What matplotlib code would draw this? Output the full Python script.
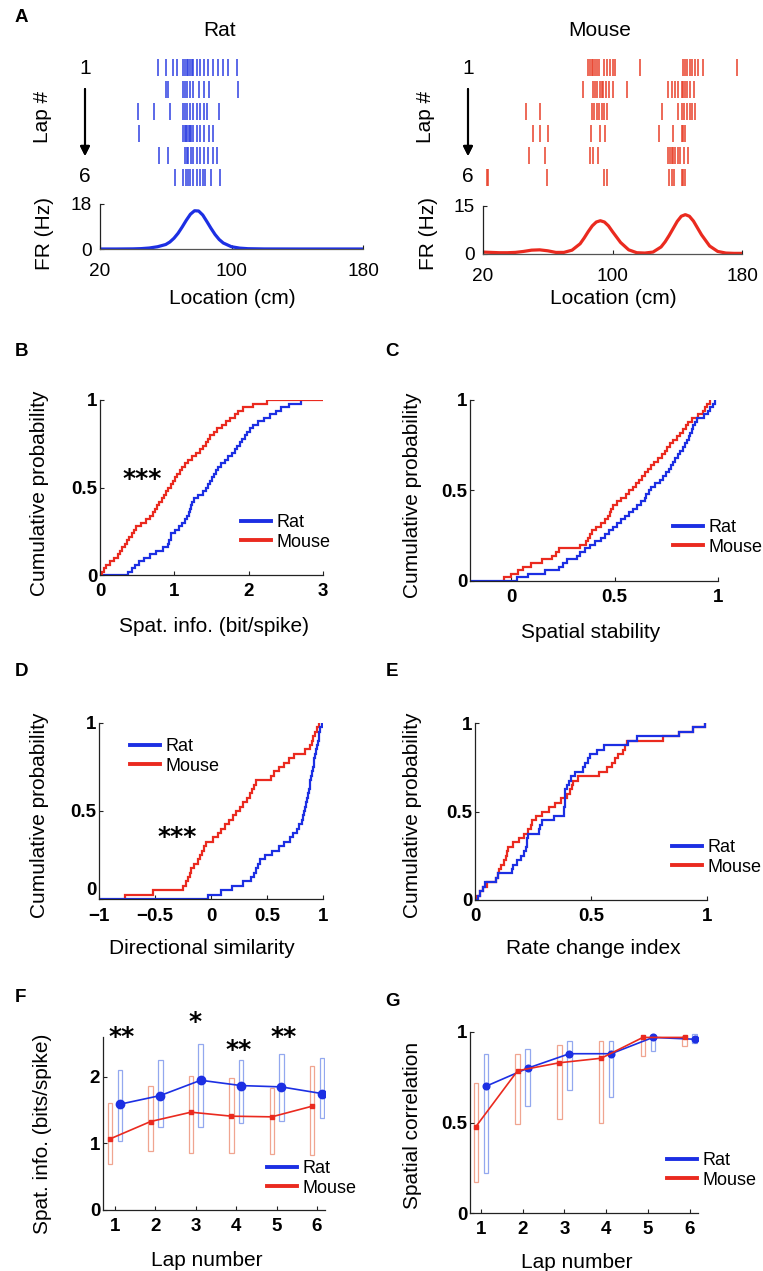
import numpy as np
import matplotlib
matplotlib.use('Agg')
import matplotlib.pyplot as plt
from matplotlib.patches import Rectangle
from matplotlib.lines import Line2D

plt.rcParams['font.family'] = ['Liberation Sans', 'DejaVu Sans']

# ---------------- data ----------------
laps = [1, 2, 3, 4, 5, 6]

rat_spikes = [
    [55.5, 60.0, 64.6, 66.6, 70.3, 71.7, 72.7, 73.7, 74.8, 75.8, 76.8, 78.8, 80.8, 83.3, 85.9, 88.9, 92.0, 94.6, 98.1, 103.5],
    [60.0, 61.6, 70.3, 71.7, 73.1, 74.8, 76.8, 80.4, 83.3, 86.5, 104.1],
    [43.3, 52.8, 62.6, 70.3, 71.7, 73.1, 74.8, 76.4, 78.8, 80.8, 83.3, 85.3, 92.4],
    [43.9, 70.7, 71.5, 72.3, 73.1, 73.9, 74.8, 75.6, 76.4, 78.8, 80.8, 83.3, 86.5, 88.5],
    [56.1, 61.6, 71.7, 72.7, 73.7, 75.2, 76.4, 78.8, 80.8, 83.3, 85.9, 88.5, 90.9],
    [65.6, 70.7, 72.3, 73.7, 74.8, 76.4, 78.8, 80.8, 82.8, 83.8, 87.3, 92.9],
]
mouse_spikes = [
    [85.0, 86.0, 87.1, 88.1, 89.1, 90.2, 91.8, 94.7, 96.4, 98.4, 100.5, 101.5, 117.0, 143.4, 144.9, 146.3, 147.6, 149.0, 151.0, 153.1, 155.8, 177.2],
    [81.9, 87.7, 89.1, 90.6, 92.2, 93.3, 94.3, 95.9, 98.0, 100.5, 108.8, 134.5, 136.6, 138.7, 140.7, 142.8, 143.8, 144.9, 145.9, 147.6, 150.4],
    [46.8, 55.1, 87.1, 88.5, 90.2, 91.8, 93.3, 94.7, 96.8, 130.4, 140.7, 142.8, 144.2, 145.9, 147.6, 149.0, 151.0],
    [51.0, 55.5, 59.9, 86.5, 92.2, 95.3, 129.0, 137.6, 142.8, 143.8, 144.9],
    [48.5, 58.6, 86.0, 88.1, 91.2, 134.5, 135.6, 136.6, 137.6, 138.7, 140.7, 141.7, 144.2, 146.9],
    [22.5, 23.1, 59.6, 94.7, 96.4, 135.2, 136.6, 138.0, 142.8, 143.8, 144.9],
]

rat_fr_loc = [20, 30, 40, 45, 50, 55, 60, 62.5, 65, 67.5, 70, 72.5, 75, 77.5, 80, 82.5, 85, 87.5, 90, 92.5, 95, 100, 105, 110, 120, 140, 160, 180]
rat_fr = [0, 0, 0.05, 0.15, 0.4, 0.9, 1.8, 2.8, 4.3, 6.3, 8.8, 11.5, 13.9, 15.3, 15.2, 13.6, 11.0, 8.3, 5.8, 3.8, 2.4, 0.9, 0.35, 0.12, 0.02, 0, 0, 0]

mouse_fr_loc = [20, 25, 30, 35, 40, 45, 50, 55, 60, 65, 70, 75, 80, 82.5, 85, 87.5, 90, 92.5, 95, 97.5, 100, 105, 110, 115, 120, 125, 130, 132.5, 135, 137.5, 140, 142.5, 145, 147.5, 150, 155, 160, 165, 170, 175, 180]
mouse_fr = [0.6, 0.5, 0.4, 0.4, 0.5, 0.8, 1.2, 1.3, 1.0, 0.5, 0.5, 1.2, 3.2, 5.0, 7.0, 8.8, 10.0, 10.4, 10.0, 8.8, 7.0, 3.6, 1.3, 0.4, 0.3, 0.6, 2.2, 3.8, 5.8, 8.0, 10.2, 11.8, 12.3, 11.8, 10.3, 6.0, 2.5, 0.8, 0.3, 0.2, 0.2]

# B: spatial information samples (sorted)
spatinfo_rat = [0.38, 0.43, 0.47, 0.52, 0.59, 0.67, 0.76, 0.85, 0.91, 0.93, 0.95, 0.96, 1.01, 1.06, 1.10, 1.14, 1.17, 1.20, 1.21, 1.23,
                1.24, 1.26, 1.32, 1.39, 1.42, 1.45, 1.48, 1.51, 1.54, 1.56, 1.59, 1.63, 1.68, 1.72, 1.77, 1.81, 1.84, 1.88, 1.91, 1.95,
                1.98, 2.02, 2.06, 2.13, 2.20, 2.29, 2.37, 2.44, 2.54, 2.71]
spatinfo_mouse = [0.03, 0.05, 0.08, 0.13, 0.19, 0.24, 0.27, 0.30, 0.33, 0.36, 0.39, 0.43, 0.46, 0.49, 0.55, 0.62, 0.67, 0.71, 0.74, 0.77,
                  0.80, 0.83, 0.86, 0.89, 0.92, 0.95, 0.98, 1.01, 1.04, 1.07, 1.10, 1.14, 1.19, 1.24, 1.29, 1.34, 1.39, 1.42, 1.45, 1.48,
                  1.53, 1.58, 1.64, 1.70, 1.75, 1.81, 1.86, 1.93, 2.06, 2.24]
# C: spatial stability
stab_rat = [0.025, 0.08, 0.164, 0.229, 0.248, 0.27, 0.318, 0.334, 0.355, 0.38, 0.405, 0.434, 0.452, 0.472, 0.49, 0.51, 0.532, 0.55, 0.569, 0.587,
            0.606, 0.626, 0.645, 0.654, 0.666, 0.677, 0.697, 0.717, 0.733, 0.75, 0.764, 0.773, 0.783, 0.794, 0.806, 0.818, 0.83, 0.841, 0.85, 0.86,
            0.865, 0.873, 0.88, 0.888, 0.896, 0.93, 0.95, 0.963, 0.975, 0.985]
stab_mouse = [-0.035, 0.0, 0.03, 0.055, 0.095, 0.15, 0.197, 0.215, 0.23, 0.33, 0.362, 0.372, 0.383, 0.392, 0.412, 0.433, 0.452, 0.468, 0.476, 0.483,
              0.49, 0.51, 0.533, 0.554, 0.57, 0.587, 0.604, 0.62, 0.633, 0.646, 0.66, 0.675, 0.692, 0.708, 0.73, 0.742, 0.755, 0.766, 0.783, 0.8,
              0.817, 0.832, 0.843, 0.855, 0.872, 0.905, 0.925, 0.937, 0.948, 0.96]
# D: directional similarity
dirsim_rat = [-0.03, 0.09, 0.19, 0.29, 0.355, 0.38, 0.405, 0.42, 0.437, 0.48, 0.545, 0.61, 0.655, 0.705, 0.735, 0.765, 0.788, 0.81, 0.82, 0.83,
              0.84, 0.85, 0.858, 0.866, 0.873, 0.881, 0.888, 0.895, 0.903, 0.91, 0.917, 0.924, 0.931, 0.938, 0.946, 0.953, 0.96, 0.966, 0.972, 0.99]
dirsim_mouse = [-0.77, -0.52, -0.25, -0.22, -0.205, -0.19, -0.18, -0.155, -0.115, -0.10, -0.083, -0.065, -0.045, 0.02, 0.063, 0.09, 0.125, 0.165, 0.2, 0.225,
                0.255, 0.29, 0.32, 0.35, 0.367, 0.383, 0.4, 0.54, 0.566, 0.604, 0.65, 0.694, 0.738, 0.84, 0.884, 0.9, 0.915, 0.93, 0.945, 0.96]
# E: rate change index
rate_rat = [0.012, 0.023, 0.033, 0.043, 0.09, 0.1, 0.16, 0.165, 0.18, 0.2, 0.213, 0.218, 0.222, 0.226, 0.229, 0.275, 0.281, 0.29, 0.34, 0.384,
            0.385, 0.386, 0.387, 0.388, 0.39, 0.397, 0.405, 0.413, 0.43, 0.467, 0.476, 0.485, 0.494, 0.524, 0.555, 0.66, 0.7, 0.88, 0.94, 0.99]
rate_mouse = [0.01, 0.02, 0.035, 0.05, 0.09, 0.099, 0.104, 0.112, 0.124, 0.132, 0.137, 0.142, 0.165, 0.19, 0.21, 0.23, 0.24, 0.247, 0.265, 0.287,
              0.32, 0.343, 0.37, 0.395, 0.409, 0.418, 0.422, 0.445, 0.535, 0.568, 0.592, 0.605, 0.615, 0.64, 0.647, 0.654, 0.81, 0.88, 0.94, 0.99]

# F: spatial info per lap (median, quartiles)
F_rat_med = [1.59, 1.72, 1.95, 1.87, 1.85, 1.75]
F_rat_q1 = [1.04, 1.25, 1.25, 1.31, 1.34, 1.38]
F_rat_q3 = [2.11, 2.25, 2.49, 2.25, 2.34, 2.29]
F_mouse_med = [1.07, 1.33, 1.47, 1.41, 1.40, 1.56]
F_mouse_q1 = [0.69, 0.89, 0.86, 0.86, 0.84, 0.82]
F_mouse_q3 = [1.61, 1.86, 2.01, 1.99, 1.84, 2.17]
F_stars = ['**', '*', '**', '**']
F_star_laps = [1, 3, 4, 5]

# G: spatial correlation per lap
G_rat_med = [0.70, 0.80, 0.88, 0.88, 0.97, 0.96]
G_rat_q1 = [0.22, 0.59, 0.68, 0.64, 0.895, 0.94]
G_rat_q3 = [0.877, 0.906, 0.95, 0.95, 0.98, 0.99]
G_mouse_med = [0.477, 0.786, 0.83, 0.855, 0.97, 0.97]
G_mouse_q1 = [0.17, 0.49, 0.52, 0.495, 0.87, 0.92]
G_mouse_q3 = [0.72, 0.877, 0.93, 0.95, 0.975, 0.98]

# ---------------- style ----------------
W, H = 763, 1271
BLUE = '#1c2fe3'
RED = '#ea2a1f'
BLUE_RASTER = '#2f40e2'
RED_RASTER = '#e8402a'
BLUE_BOX = '#93a8ef'
RED_BOX = '#f0a590'
AX_COL = '#222222'
LAB_FS = 15
TICK_FS = 13.5
LEG_FS = 13

fig = plt.figure(figsize=(W / 100, H / 100), dpi=100)


def add_ax(x0, y0, x1, y1):
    return fig.add_axes([x0 / W, 1 - y1 / H, (x1 - x0) / W, (y1 - y0) / H])


def ftext(x, y, s, **kw):
    kw.setdefault('ha', 'center')
    kw.setdefault('va', 'center')
    return fig.text(x / W, 1 - y / H, s, **kw)


def style(ax, bold=True, size=TICK_FS, xpad=6, ypad=2):
    for s in ['top', 'right']:
        ax.spines[s].set_visible(False)
    for s in ['left', 'bottom']:
        ax.spines[s].set_linewidth(0.9)
        ax.spines[s].set_color(AX_COL)
    ax.tick_params(direction='in', length=3, width=0.8, labelsize=size, color=AX_COL, labelcolor='black')
    ax.tick_params(axis='x', pad=xpad)
    ax.tick_params(axis='y', pad=ypad)
    ax.patch.set_alpha(0)
    if bold:
        for lab in ax.get_xticklabels() + ax.get_yticklabels():
            lab.set_fontweight('bold')


def ecdf(ax, samples, color, x_start=None, x_end=None, lw=1.6):
    xs = np.sort(np.asarray(samples, dtype=float))
    n = len(xs)
    x = list(xs)
    y = list(np.arange(1, n + 1) / n)
    x = [xs[0] if x_start is None else x_start] + x
    y = [0.0] + y
    if x_end is not None:
        x = x + [x_end]
        y = y + [1.0]
    ax.step(x, y, where='post', color=color, lw=lw, solid_joinstyle='miter')


def add_legend(ax, x_line, y_row1):
    handles = [Line2D([], [], color=BLUE, lw=2.8), Line2D([], [], color=RED, lw=2.8)]
    fs_px = LEG_FS * 100 / 72
    ax.legend(handles, ['Rat', 'Mouse'], loc='upper left',
              bbox_to_anchor=(x_line / W, 1 - (y_row1 - 0.6 * fs_px) / H),
              bbox_transform=fig.transFigure, frameon=False, fontsize=LEG_FS,
              handlelength=1.65, handletextpad=0.3, labelspacing=0.13,
              borderpad=0, borderaxespad=0)


# ---------------- Panel A ----------------
def panel_a(x0, x1, fr_top, fr_bot, spikes, loc, fr, ymax, col, rcol, title, tx):
    axr = add_ax(x0, 57, x1, 188)
    axr.eventplot(spikes, lineoffsets=laps, linelengths=0.78, colors=rcol, linewidths=1.1)
    axr.set_xlim(20, 180)
    axr.set_ylim(6.5, 0.5)
    axr.axis('off')

    ax = add_ax(x0, fr_top, x1, fr_bot)
    ax.plot(loc, fr, color=col, lw=2.3, solid_capstyle='butt')
    ax.set_xlim(20, 180)
    ax.set_ylim(0, ymax)
    ax.set_xticks([20, 100, 180])
    ax.set_yticks([0, ymax])
    ax.set_xticklabels(['20', '100', '180'])
    ax.set_yticklabels(['0', str(ymax)])
    style(ax, bold=False, size=13.7, xpad=10, ypad=6)
    ax.spines['bottom'].set_color('#555555')

    ftext(tx, 31, title, fontsize=LAB_FS)
    ftext((x0 + x1) / 2 + 1, 299, 'Location (cm)', fontsize=LAB_FS)
    lx = x0 - 15
    ftext(lx, 68, '1', fontsize=LAB_FS)
    ftext(lx, 177, '6', fontsize=LAB_FS)
    fig.add_artist(plt.annotate('', xy=(lx / W, 1 - 156 / H), xytext=(lx / W, 1 - 89 / H),
                                xycoords='figure fraction', textcoords='figure fraction',
                                arrowprops=dict(arrowstyle='-|>', color='black', lw=1.5,
                                                mutation_scale=14, shrinkA=0, shrinkB=0)))
    ftext(x0 - 57, 117, 'Lap #', fontsize=LAB_FS, rotation=90)
    ftext(x0 - 55, 234, 'FR (Hz)', fontsize=LAB_FS, rotation=90)


ftext(21, 18, 'A', fontsize=13.5, fontweight='bold')
panel_a(100, 363, 204, 249, rat_spikes, rat_fr_loc, rat_fr, 18, BLUE, BLUE_RASTER, 'Rat', 220)
panel_a(483, 742, 206, 254, mouse_spikes, mouse_fr_loc, mouse_fr, 15, RED, RED_RASTER, 'Mouse', 600)

# ---------------- Panel B ----------------
axB = add_ax(100, 400, 323, 575)
ecdf(axB, spatinfo_rat, BLUE, x_start=0, x_end=2.71)
ecdf(axB, spatinfo_mouse, RED, x_start=0, x_end=3.0)
axB.set_xlim(0, 3)
axB.set_ylim(0, 1)
axB.set_xticks([0, 1, 2, 3])
axB.set_yticks([0, 0.5, 1])
axB.set_yticklabels(['0', '0.5', '1'])
style(axB)
add_legend(axB, 241, 525)
ftext(142, 479, '***', fontsize=18, fontweight='bold', family='DejaVu Sans')
ftext(214, 627, 'Spat. info. (bit/spike)', fontsize=LAB_FS)
ftext(40, 493, 'Cumulative probability', fontsize=LAB_FS, rotation=90)
ftext(22, 352, 'B', fontsize=13.5, fontweight='bold')

# ---------------- Panel C ----------------
axC = add_ax(470, 400, 718, 581)
ecdf(axC, stab_mouse, RED, x_start=None, x_end=None)
ecdf(axC, stab_rat, BLUE, x_start=-0.2, x_end=None)
axC.set_xlim(-0.2, 1)
axC.set_ylim(0, 1)
axC.set_xticks([0, 0.5, 1])
axC.set_xticklabels(['0', '0.5', '1'])
axC.set_yticks([0, 0.5, 1])
axC.set_yticklabels(['0', '0.5', '1'])
style(axC)
add_legend(axC, 673, 530)
ftext(591, 633, 'Spatial stability', fontsize=LAB_FS)
ftext(413, 495, 'Cumulative probability', fontsize=LAB_FS, rotation=90)
ftext(392, 352, 'C', fontsize=13.5, fontweight='bold')

# ---------------- Panel D ----------------
axD = add_ax(99, 723, 323, 899)
ecdf(axD, dirsim_mouse, RED, x_start=None, x_end=None)
ecdf(axD, dirsim_rat, BLUE, x_start=-1, x_end=None)
axD.set_xlim(-1, 1)
axD.set_ylim(0, 1)
axD.set_xticks([-1, -0.5, 0, 0.5, 1])
axD.set_xticklabels(['\u22121', '\u22120.5', '0', '0.5', '1'])
axD.set_yticks([0, 0.5, 1])
axD.set_yticklabels(['0', '0.5', '1'])
style(axD, xpad=6.5)
ytl = axD.get_yticklabels()
ytl[0].set_verticalalignment('bottom')
add_legend(axD, 130, 749)
ftext(177, 837, '***', fontsize=18, fontweight='bold', family='DejaVu Sans')
ftext(202, 948, 'Directional similarity', fontsize=LAB_FS)
ftext(40, 815, 'Cumulative probability', fontsize=LAB_FS, rotation=90)
ftext(22, 672, 'D', fontsize=13.5, fontweight='bold')

# ---------------- Panel E ----------------
axE = add_ax(475, 723, 707, 900)
ecdf(axE, rate_mouse, RED, x_start=0, x_end=None)
ecdf(axE, rate_rat, BLUE, x_start=0, x_end=None)
axE.set_xlim(0, 1)
axE.set_ylim(0, 1)
axE.set_xticks([0, 0.5, 1])
axE.set_xticklabels(['0', '0.5', '1'])
axE.set_yticks([0, 0.5, 1])
axE.set_yticklabels(['0', '0.5', '1'])
style(axE)
add_legend(axE, 672, 850)
ftext(593, 948, 'Rate change index', fontsize=LAB_FS)
ftext(413, 815, 'Cumulative probability', fontsize=LAB_FS, rotation=90)
ftext(392, 672, 'E', fontsize=13.5, fontweight='bold')


# ---------------- Panels F and G ----------------
def lap_panel(ax, rm, rq1, rq3, mm, mq1, mq3, rsize, msize):
    off = 0.12
    bw = 0.11
    for i, lap in enumerate(laps):
        ax.add_patch(Rectangle((lap - off - bw / 2, mq1[i]), bw, mq3[i] - mq1[i],
                               fill=False, edgecolor=RED_BOX, lw=0.9))
        ax.add_patch(Rectangle((lap + off - bw / 2, rq1[i]), bw, rq3[i] - rq1[i],
                               fill=False, edgecolor=BLUE_BOX, lw=0.9))
    lx = np.asarray(laps, dtype=float)
    ax.plot(lx + off, rm, color=BLUE, lw=1.2, marker='o', ms=rsize, zorder=3)
    ax.plot(lx - off, mm, color=RED, lw=1.2, marker='s', ms=msize, zorder=3)


axF = add_ax(103, 1037, 325, 1210)
lap_panel(axF, F_rat_med, F_rat_q1, F_rat_q3, F_mouse_med, F_mouse_q1, F_mouse_q3, 6, 3.2)
axF.set_xlim(0.7, 6.2)
axF.set_ylim(0, 2.6)
axF.set_xticks(laps)
axF.set_yticks([0, 1, 2])
style(axF)
add_legend(axF, 267, 1171)
star_y = [2.6, 2.82, 2.41, 2.6]
star_dx = [0.15, -0.02, 0.07, 0.18]
for s, lp, yy, dx in zip(F_stars, F_star_laps, star_y, star_dx):
    axF.text(lp + dx, yy, s, ha='center', va='center', fontsize=18, fontweight='bold',
             family='DejaVu Sans', clip_on=False)
ftext(207, 1260, 'Lap number', fontsize=LAB_FS)
ftext(43, 1134, 'Spat. info. (bits/spike)', fontsize=LAB_FS, rotation=90)
ftext(20, 998, 'F', fontsize=13.5, fontweight='bold')

axG = add_ax(470, 1032, 698, 1213)
lap_panel(axG, G_rat_med, G_rat_q1, G_rat_q3, G_mouse_med, G_mouse_q1, G_mouse_q3, 4.8, 3.5)
axG.set_xlim(0.74, 6.2)
axG.set_ylim(0, 1)
axG.set_xticks(laps)
axG.set_yticks([0, 0.5, 1])
axG.set_yticklabels(['0', '0.5', '1'])
style(axG)
add_legend(axG, 667, 1163)
ftext(577, 1262, 'Lap number', fontsize=LAB_FS)
ftext(413, 1125, 'Spatial correlation', fontsize=LAB_FS, rotation=90)
ftext(392, 1002, 'G', fontsize=13.5, fontweight='bold')

fig.savefig('out.png', dpi=100)
